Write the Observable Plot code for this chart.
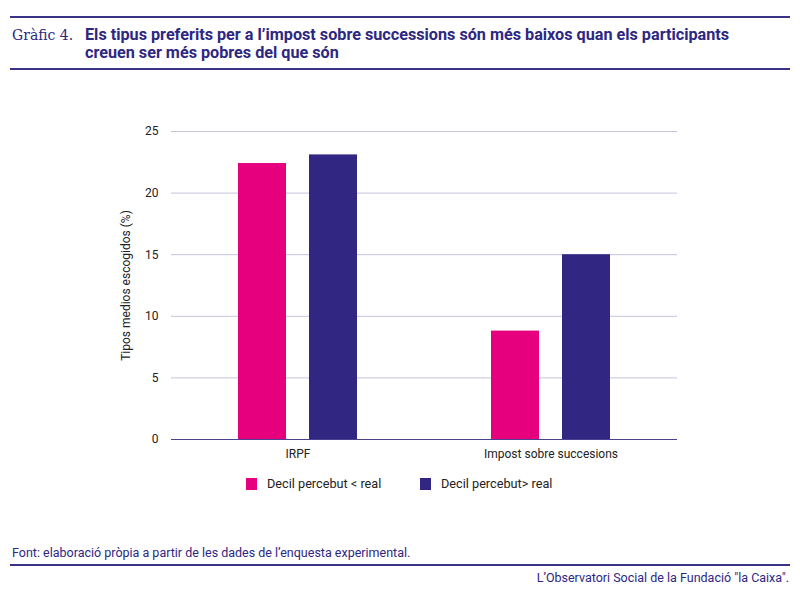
<!DOCTYPE html>
<html>
<head>
<meta charset="utf-8">
<script src="https://cdn.jsdelivr.net/npm/d3@7"></script>
<script src="https://cdn.jsdelivr.net/npm/@observablehq/plot@0.6"></script>
<style>
  html, body { margin: 0; padding: 0; background: #fff; }
  body { width: 800px; height: 591px; position: relative; overflow: hidden; font-family: Roboto, "Liberation Sans", sans-serif; }
  .rule { position: absolute; left: 10px; width: 780px; height: 2px; background: #3a3286; }
  #num { position: absolute; left: 12px; top: 27px; font-family: "DejaVu Serif", "Liberation Serif", serif; font-size: 14px; color: #2e2782; }
  #title { position: absolute; left: 85px; top: 26px; font-weight: bold; font-size: 16.2px; line-height: 17.5px; color: #2e2782; letter-spacing: 0px; }
  #chart { position: absolute; left: 0; top: 100px; }
  #legend { position: absolute; top: 476px; left: 0; width: 800px; font-size: 12.7px; color: #222; }
  .item { position: absolute; top: 0; display: flex; align-items: center; }
  .sw { width: 11px; height: 12px; margin-right: 10px; }
  #source { position: absolute; left: 12px; top: 545px; font-size: 12.5px; color: #2e2782; }
  #credit { position: absolute; right: 11px; top: 570px; font-size: 12.5px; color: #2e2782; }
</style>
</head>
<body>
<div class="rule" style="top:16px"></div>
<div id="num">Gràfic 4.</div>
<div id="title">Els tipus preferits per a l’impost sobre successions són més baixos quan els participants<br>creuen ser més pobres del que són</div>
<div class="rule" style="top:68px"></div>
<div id="chart"></div>
<div id="legend"></div>
<div id="source">Font: elaboració pròpia a partir de les dades de l’enquesta experimental.</div>
<div class="rule" style="top:564px"></div>
<div id="credit">L’Observatori Social de la Fundació "la Caixa".</div>
<script>
const categories = ["IRPF", "Impost sobre succesions"];
const series = ["Decil percebut < real", "Decil percebut> real"];
const lowerValues = [22.4, 8.8];
const higherValues = [23.1, 15.0];
const yTicks = [0, 5, 10, 15, 20, 25];
const colors = ["#e6007e", "#312783"];

const data = [];
categories.forEach((c, i) => {
  data.push({cat: c, series: series[0], value: lowerValues[i]});
  data.push({cat: c, series: series[1], value: higherValues[i]});
});

const chart = Plot.plot({
  width: 800,
  height: 370,
  marginLeft: 171,
  marginRight: 123,
  marginTop: 31,
  marginBottom: 31,
  style: {fontFamily: "Roboto, 'Liberation Sans', sans-serif", fontSize: "12px", color: "#222", background: "transparent"},
  fx: {domain: categories, padding: 0, label: null, axis: "bottom", tickSize: 0, tickPadding: 10},
  x: {domain: series, axis: null, paddingInner: 0.3286, paddingOuter: 0.94},
  y: {domain: [0, 25], ticks: yTicks, label: "Tipos medios escogidos (%)", labelAnchor: "center", labelArrow: "none", labelOffset: 50, tickSize: 0, tickPadding: 13},
  color: {domain: series, range: colors},
  marks: [
    Plot.gridY(yTicks, {stroke: "#c6c2dc", strokeOpacity: 1, strokeWidth: 1}),
    Plot.barY(data, {fx: "cat", x: "series", y: "value", fill: "series"}),
    Plot.ruleY([0], {stroke: "#4b4290", strokeWidth: 1.2})
  ]
});
document.getElementById("chart").appendChild(chart);

const legend = document.getElementById("legend");
const legendX = [246, 420];
series.forEach((s, i) => {
  const item = document.createElement("div");
  item.className = "item";
  item.style.left = legendX[i] + "px";
  const sw = document.createElement("div");
  sw.className = "sw";
  sw.style.background = colors[i];
  const t = document.createElement("span");
  t.textContent = s;
  item.appendChild(sw);
  item.appendChild(t);
  legend.appendChild(item);
});
</script>
</body>
</html>
